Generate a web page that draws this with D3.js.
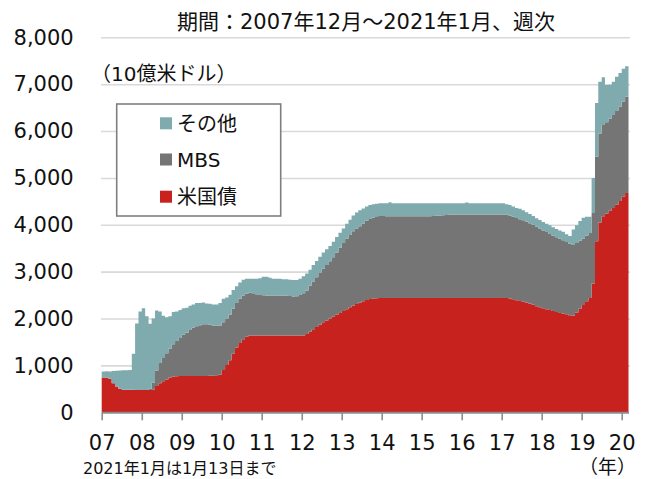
<!DOCTYPE html>
<html>
<head>
<meta charset="utf-8">
<script src="https://cdn.jsdelivr.net/npm/d3@7"></script>
<style>
body { margin: 0; background: #fff; }
text { font-family: "DejaVu Sans", "Noto Sans CJK JP", sans-serif; fill: #111; }
</style>
</head>
<body>
<script>
// monthly, Dec 2007 .. Jan 2021 (10億米ドル)
var treasury = [
  740,
  735, 715, 620, 550, 500, 480, 479, 479, 479, 476, 476, 475,
  475, 474, 480, 560, 620, 660, 700, 740, 760, 770, 775, 776,
  776, 776, 776, 776, 776, 776, 776, 778, 780, 790, 800, 900,
  1010, 1110, 1250, 1380, 1480, 1560, 1610, 1640, 1640, 1640, 1640, 1640,
  1640, 1640, 1640, 1640, 1640, 1640, 1640, 1640, 1640, 1640, 1640, 1640,
  1670, 1720, 1770, 1820, 1870, 1920, 1960, 2000, 2040, 2080, 2120, 2160,
  2200, 2240, 2280, 2310, 2340, 2370, 2395, 2415, 2425, 2435, 2440, 2440,
  2440, 2440, 2440, 2440, 2440, 2440, 2440, 2440, 2440, 2440, 2440, 2440,
  2440, 2440, 2440, 2440, 2440, 2440, 2440, 2440, 2440, 2440, 2440, 2440,
  2440, 2440, 2440, 2440, 2440, 2440, 2440, 2440, 2440, 2440, 2440, 2440,
  2440, 2430, 2410, 2390, 2375, 2360, 2340, 2320, 2295, 2265, 2240, 2220,
  2200, 2180, 2160, 2140, 2120, 2105, 2090, 2070, 2065, 2130, 2210, 2290,
  2370, 2440, 2750, 3650, 4050, 4180, 4240, 4300, 4360, 4430, 4510, 4600,
  4680
];
var mbs = [
  0,
  0, 0, 0, 0, 0, 0, 0, 0, 0, 0, 0, 0,
  0, 30, 150, 330, 430, 500, 560, 620, 690, 750, 810, 880,
  920, 980, 1030, 1060, 1080, 1100, 1100, 1090, 1070, 1060, 1050, 1020,
  990, 970, 960, 950, 940, 930, 920, 910, 900, 880, 865, 855,
  850, 850, 850, 850, 850, 850, 845, 840, 830, 835, 860, 900,
  930, 980, 1020, 1060, 1100, 1140, 1180, 1220, 1270, 1330, 1390, 1450,
  1500, 1540, 1580, 1610, 1630, 1660, 1690, 1710, 1730, 1745, 1750, 1750,
  1740, 1740, 1740, 1740, 1740, 1740, 1740, 1740, 1740, 1740, 1740, 1740,
  1740, 1745, 1750, 1755, 1760, 1765, 1770, 1775, 1780, 1780, 1780, 1780,
  1780, 1780, 1780, 1780, 1780, 1780, 1780, 1780, 1780, 1780, 1780, 1780,
  1775, 1770, 1765, 1755, 1745, 1735, 1725, 1715, 1705, 1695, 1680, 1660,
  1645, 1625, 1610, 1595, 1580, 1565, 1545, 1525, 1505, 1480, 1450, 1420,
  1400, 1385, 1500, 1800, 1900, 1950, 1950, 1960, 1980, 2000, 2010, 2030,
  2050
];
var other = [
  130,
  140, 155, 260, 335, 390, 415, 420, 425, 770, 1420, 1675, 1745,
  1575, 1385, 1370, 1280, 1100, 900, 770, 690, 690, 630, 595, 565,
  535, 515, 495, 495, 475, 465, 445, 450, 450, 450, 480, 500,
  450, 430, 400, 360, 350, 340, 320, 300, 310, 330, 355, 395,
  400, 380, 360, 360, 360, 350, 355, 350, 350, 345, 350, 360,
  360, 340, 350, 350, 350, 350, 340, 330, 330, 330, 320, 310,
  320, 330, 340, 340, 340, 320, 305, 295, 285, 270, 270, 270,
  280, 300, 280, 280, 280, 280, 280, 280, 280, 280, 280, 280,
  280, 275, 270, 265, 260, 255, 250, 245, 240, 240, 240, 240,
  255, 240, 240, 240, 240, 240, 240, 240, 240, 240, 240, 240,
  225, 220, 215, 215, 220, 215, 205, 195, 190, 180, 180, 180,
  175, 185, 180, 175, 180, 180, 165, 165, 330, 380, 420, 440,
  400, 345, 750, 1150, 1100, 1020, 790, 730, 710, 730, 720, 700,
  650
];
var seriesNames = ["米国債", "MBS", "その他"];
var seriesColors = ["#c8221f", "#757575", "#7faaae"];
var yTicks = [0, 1000, 2000, 3000, 4000, 5000, 6000, 7000, 8000];
var xLabels = ["07", "08", "09", "10", "11", "12", "13", "14", "15", "16", "17", "18", "19", "20"];

var startDate = new Date(2007, 11, 1), endDate = new Date(2021, 1, 1);
var months = d3.timeMonth.range(startDate, endDate);
var rows = months.map(function (d, i) {
  return { date: d, "米国債": treasury[i], "MBS": mbs[i], "その他": other[i] };
});
// carry the last week to the right edge of the plot
rows.push(Object.assign({}, rows[rows.length - 1], { date: endDate }));

var svg = d3.select('body').append('svg').attr('width', 652).attr('height', 479);

var x = d3.scaleTime().domain([startDate, endDate]).range([101.7, 628.5]);
var y = d3.scaleLinear().domain([0, 8000]).range([412.3, 37.3]);

// gridlines
svg.append('g').attr('class', 'grid')
  .attr('transform', 'translate(101,0)')
  .call(d3.axisLeft(y).tickValues(yTicks.slice(1)).tickSize(-529).tickFormat(''))
  .call(function (g) { g.select('.domain').remove(); })
  .selectAll('line').attr('stroke', '#d9d9d9').attr('stroke-width', 1.6);

// stacked areas
var stack = d3.stack().keys(seriesNames);
var layers = stack(rows);
var area = d3.area().curve(d3.curveStepAfter)
  .x(function (d) { return x(d.data.date); })
  .y0(function (d) { return y(d[0]); })
  .y1(function (d) { return y(d[1]); });
svg.append('g').selectAll('path').data(layers).enter().append('path')
  .attr('d', area)
  .attr('fill', function (d, i) { return seriesColors[i]; });

// y axis labels
svg.append('g').attr('transform', 'translate(101.7,0)')
  .call(d3.axisLeft(y).tickValues(yTicks).tickFormat(d3.format(',')).tickSize(0).tickPadding(28))
  .call(function (g) { g.select('.domain').remove(); })
  .selectAll('text').style('font-size', '21px').attr('fill', '#111');

// x axis
var tickDates = xLabels.map(function (s) { return new Date(2000 + (+s), 11, 1); });
var xAxis = svg.append('g').attr('transform', 'translate(0,412.3)')
  .call(d3.axisBottom(x).tickValues(tickDates).tickFormat(function (d, i) { return xLabels[i]; })
    .tickSize(8).tickSizeOuter(0).tickPadding(15));
xAxis.select('.domain').attr('stroke', '#8c8c8c').attr('stroke-width', 2);
xAxis.selectAll('line').attr('stroke', '#8c8c8c').attr('stroke-width', 1.6);
xAxis.selectAll('text').style('font-size', '21px').attr('fill', '#111');

// texts
svg.append('text').attr('x', 177).attr('y', 28.5).style('font-size', '21px')
  .text('期間：2007年12月～2021年1月、週次');
svg.append('text').attr('x', 91).attr('y', 81).style('font-size', '20px')
  .text('（10億米ドル）');
svg.append('text').attr('x', 579).attr('y', 474).style('font-size', '19px')
  .text('（年）');
svg.append('text').attr('x', 83).attr('y', 474).style('font-size', '16px')
  .text('2021年1月は1月13日まで');

// legend
var legend = svg.append('g');
legend.append('rect').attr('x', 116.7).attr('y', 104).attr('width', 164).attr('height', 112)
  .attr('fill', '#fff').attr('stroke', '#7f7f7f').attr('stroke-width', 1.6);
var legendRows = [2, 1, 0];
var legendY = [123.3, 159.5, 196.7];
legendRows.forEach(function (k, i) {
  legend.append('rect').attr('x', 160).attr('y', legendY[i] - 6).attr('width', 12).attr('height', 12)
    .attr('fill', seriesColors[k]);
  legend.append('text').attr('x', 177).attr('y', legendY[i]).attr('dy', '0.36em')
    .style('font-size', '20px').text(seriesNames[k]);
});
</script>
</body>
</html>
